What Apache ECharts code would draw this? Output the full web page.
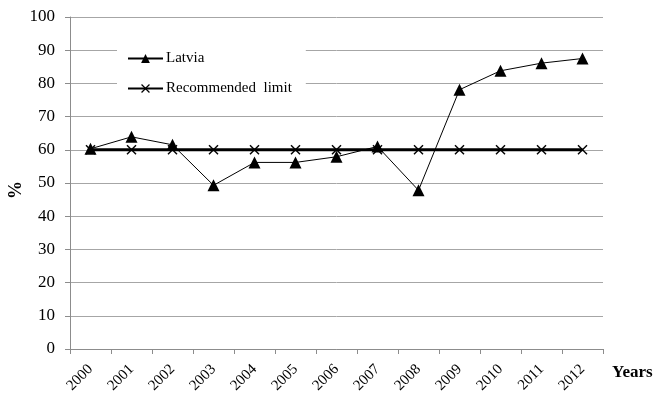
<!DOCTYPE html>
<html>
<head>
<meta charset="utf-8">
<script src="https://cdn.jsdelivr.net/npm/echarts@6/dist/echarts.min.js"></script>
<style>
  html, body { margin: 0; padding: 0; background: #fff; }
  #chart { width: 656px; height: 397px; }
</style>
</head>
<body>
<div id="chart"></div>
<script>
// Years on the category axis
const years = ['2000', '2001', '2002', '2003', '2004', '2005', '2006',
               '2007', '2008', '2009', '2010', '2011', '2012'];
// Latvia, % per year
const latvia = [60.3, 63.9, 61.5, 49.3, 56.2, 56.2, 57.9, 61, 47.8, 78.1, 83.8, 86.1, 87.5];
// Recommended limit, % per year
const limit = [60, 60, 60, 60, 60, 60, 60, 60, 60, 60, 60, 60, 60];
// Value axis range
const yMin = 0, yMax = 100, yStep = 10;

const serif = '"Liberation Serif", "DejaVu Serif", serif';
const crossSymbol = 'path://M0,1L1,0L5,4L9,0L10,1L6,5L10,9L9,10L5,6L1,10L0,9L4,5Z';

const chart = echarts.init(document.getElementById('chart'), null, { renderer: 'canvas' });
chart.setOption({
  animation: false,
  backgroundColor: '#ffffff',
  grid: { left: 70, right: 53, top: 17, bottom: 48, containLabel: false },
  legend: {
    orient: 'vertical',
    left: 117,
    top: 41,
    padding: [10, 14, 10, 10],
    backgroundColor: '#ffffff',
    itemGap: 15,
    itemWidth: 35,
    itemHeight: 11,
    textStyle: { fontFamily: serif, fontSize: 15, color: '#000', padding: [0, 0, 0, -2] },
    data: ['Latvia', 'Recommended  limit']
  },
  xAxis: {
    type: 'category',
    data: years,
    boundaryGap: true,
    axisLine: { lineStyle: { color: '#8c8c8c', width: 1 } },
    axisTick: { show: true, interval: 0, length: 5, lineStyle: { color: '#8c8c8c' } },
    axisLabel: { interval: 0, rotate: 45, margin: 18, fontFamily: serif, fontSize: 15, color: '#000' },
    splitLine: { show: false }
  },
  yAxis: {
    type: 'value',
    min: yMin, max: yMax, interval: yStep,
    axisLine: { show: true, lineStyle: { color: '#8c8c8c', width: 1 } },
    axisTick: { show: true, length: 5, lineStyle: { color: '#8c8c8c' } },
    axisLabel: { margin: 15, fontFamily: serif, fontSize: 17, color: '#000' },
    splitLine: { show: true, lineStyle: { color: '#a6a6a6', width: 1 } }
  },
  graphic: [
    {
      type: 'text',
      left: 612,
      top: 364,
      style: { text: 'Years', font: 'bold 17px ' + serif, fill: '#000' }
    },
    {
      type: 'text',
      x: 16,
      y: 190,
      rotation: Math.PI / 2,
      style: { text: '%', font: 'bold 18px ' + serif, fill: '#000', align: 'center', verticalAlign: 'middle' }
    }
  ],
  series: [
    {
      name: 'Recommended  limit',
      type: 'line',
      data: limit,
      symbol: crossSymbol,
      symbolSize: 10,
      lineStyle: { color: '#000', width: 3 },
      itemStyle: { color: '#000' },
      z: 2
    },
    {
      name: 'Latvia',
      type: 'line',
      data: latvia,
      symbol: 'triangle',
      symbolSize: 12,
      lineStyle: { color: '#000', width: 1 },
      itemStyle: { color: '#000' },
      z: 3
    }
  ]
});
</script>
</body>
</html>
